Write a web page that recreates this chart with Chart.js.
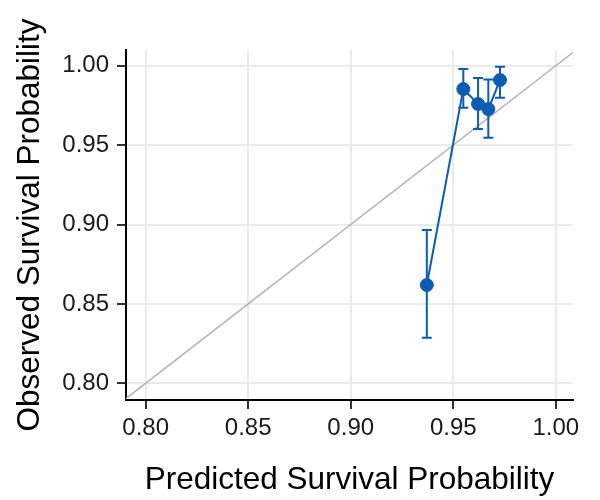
<!DOCTYPE html>
<html>
<head>
<meta charset="utf-8">
<script src="https://cdn.jsdelivr.net/npm/chart.js@4"></script>
<style>
html,body{margin:0;padding:0;background:#fff;}
#wrap{width:600px;height:500px;}
</style>
</head>
<body>
<div id="wrap"><canvas id="c" width="600" height="500"></canvas></div>
<script>
const predicted = [0.9371, 0.9549, 0.9621, 0.9671, 0.9728];
const observed  = [0.8619, 0.9853, 0.9759, 0.9727, 0.9910];
const lowerCI   = [0.8287, 0.9736, 0.9601, 0.9547, 0.9798];
const upperCI   = [0.8965, 0.9979, 0.9923, 0.9914, 0.9994];
const xTicks = [0.80, 0.85, 0.90, 0.95, 1.00];
const yTicks = [0.80, 0.85, 0.90, 0.95, 1.00];
const diagonal = [0.78, 1.02];

const BLUE = '#0B5CB5';
const FONT = "'Liberation Sans', Arial, sans-serif";

const errorBars = {
  id: 'errorBars',
  afterDatasetsDraw(chart) {
    const ctx = chart.ctx;
    const xs = chart.scales.x, ys = chart.scales.y;
    ctx.save();
    ctx.strokeStyle = BLUE;
    ctx.lineWidth = 2;
    for (let i = 0; i < predicted.length; i++) {
      const px = xs.getPixelForValue(predicted[i]);
      const pl = ys.getPixelForValue(lowerCI[i]);
      const pu = ys.getPixelForValue(upperCI[i]);
      ctx.beginPath();
      ctx.moveTo(px, pl); ctx.lineTo(px, pu);
      ctx.moveTo(px - 5, pl); ctx.lineTo(px + 5, pl);
      ctx.moveTo(px - 5, pu); ctx.lineTo(px + 5, pu);
      ctx.stroke();
    }
    ctx.restore();
  }
};

new Chart(document.getElementById('c'), {
  type: 'scatter',
  data: {
    datasets: [
      {
        data: predicted.map((v, i) => ({x: v, y: observed[i]})),
        showLine: true,
        borderColor: BLUE,
        backgroundColor: BLUE,
        borderWidth: 2,
        pointRadius: 6.5,
        pointBorderWidth: 1,
        pointBorderColor: BLUE,
        pointBackgroundColor: BLUE,
        order: 1
      },
      {
        data: diagonal.map(v => ({x: v, y: v})),
        showLine: true,
        borderColor: '#B3B3B3',
        borderWidth: 1.5,
        pointRadius: 0,
        order: 2
      }
    ]
  },
  options: {
    responsive: false,
    animation: false,
    devicePixelRatio: 1,
    layout: {padding: {left: 0, right: 27, top: 50, bottom: 0}},
    plugins: {legend: {display: false}, tooltip: {enabled: false}},
    scales: {
      x: {
        type: 'linear',
        min: 0.7904, max: 1.0084,
        afterBuildTicks: s => { s.ticks = xTicks.map(v => ({value: v})); },
        afterFit: s => { s.height = 100; },
        grid: {color: '#EBEBEB', lineWidth: 2, tickColor: '#333333', tickLength: 9, tickWidth: 2},
        border: {color: '#000000', width: 2},
        ticks: {
          color: '#1A1A1A', padding: 5, maxRotation: 0,
          font: {family: FONT, size: 24},
          callback: v => v.toFixed(2)
        },
        title: {
          display: true, text: 'Predicted Survival Probability',
          color: '#000000', font: {family: FONT, size: 31.5},
          padding: {top: 0, bottom: 1}
        }
      },
      y: {
        type: 'linear',
        min: 0.7895, max: 1.0099,
        afterBuildTicks: s => { s.ticks = yTicks.map(v => ({value: v})); },
        afterFit: s => { s.width = 126; },
        grid: {color: '#EBEBEB', lineWidth: 2, tickColor: '#333333', tickLength: 9, tickWidth: 2},
        border: {color: '#000000', width: 2},
        ticks: {
          color: '#1A1A1A', padding: 8,
          font: {family: FONT, size: 24},
          callback: v => v.toFixed(2)
        },
        title: {
          display: true, text: 'Observed Survival Probability',
          color: '#000000', font: {family: FONT, size: 31.5},
          padding: {top: 11, bottom: 0}
        }
      }
    }
  },
  plugins: [errorBars]
});
</script>
</body>
</html>
